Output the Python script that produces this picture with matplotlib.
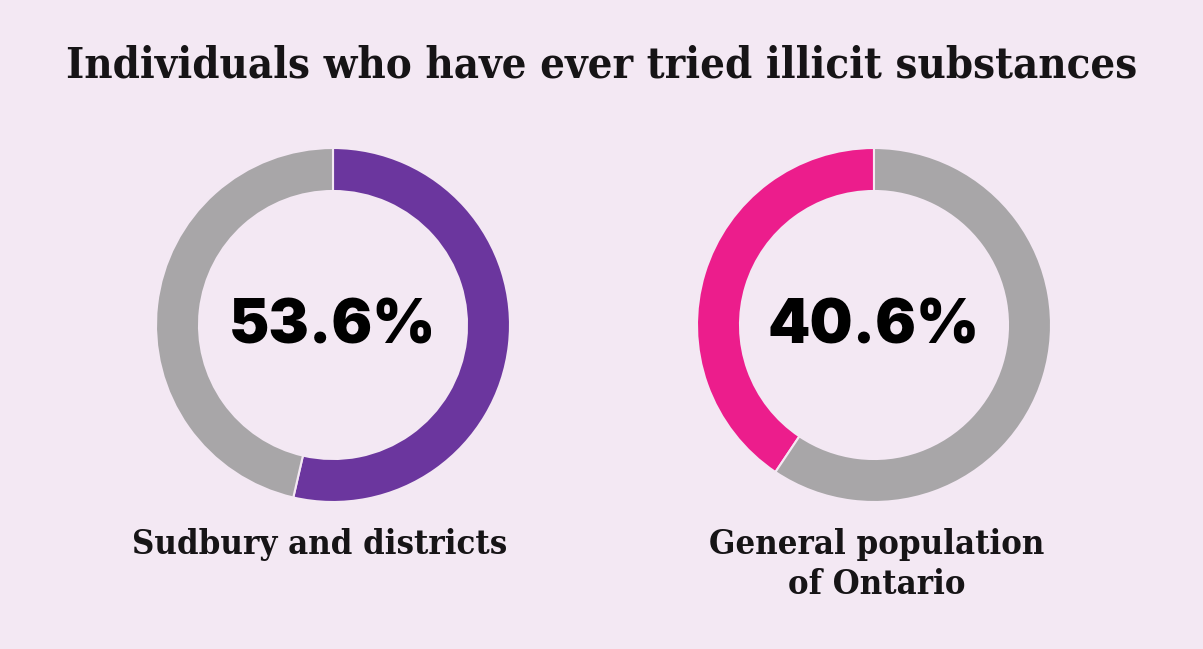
import matplotlib
matplotlib.use('Agg')
import matplotlib.pyplot as plt

# data
title = 'Individuals who have ever tried illicit substances'
groups = ['Sudbury and districts', 'General population\nof Ontario']
shares = [53.6, 40.6]
colors = ['#6B369E', '#EC1D8C']
clockwise = [True, False]

bg = '#F3E8F3'
grey = '#A8A6A8'

W, H = 1203, 649
fig = plt.figure(figsize=(W / 100, H / 100), dpi=100, facecolor=bg)
ax = fig.add_axes([0, 0, 1, 1])

centers = [(333, H - 325), (874, H - 325)]
radius = 177
ring = 43

for i, (val, col) in enumerate(zip(shares, colors)):
    ax.pie([val, 100 - val], colors=[col, grey], startangle=90,
           counterclock=not clockwise[i], center=centers[i], radius=radius,
           wedgeprops=dict(width=ring, edgecolor=bg, linewidth=1.5),
           frame=True)
    ax.text(centers[i][0], centers[i][1] - 2, f'{val}%', ha='center', va='center',
            fontsize=43.5, fontweight='black', family=['Inter', 'Lato', 'DejaVu Sans'],
            color='#000000')

ax.set_xlim(0, W)
ax.set_ylim(0, H)
ax.set_aspect('equal')
ax.axis('off')

label_x = [320, 877]
for x, g in zip(label_x, groups):
    ax.text(x, H - 528, g, ha='center', va='top', fontsize=24.8,
            fontweight='bold', family='DejaVu Serif', fontstretch='condensed',
            color='#161416', linespacing=1.25)

fig.text(0.5, 1 - 65 / H, title, ha='center', va='center', fontsize=31.2,
         fontweight='bold', family='DejaVu Serif', fontstretch='condensed',
         color='#161416')

fig.savefig('out.png', dpi=100, facecolor=bg)
